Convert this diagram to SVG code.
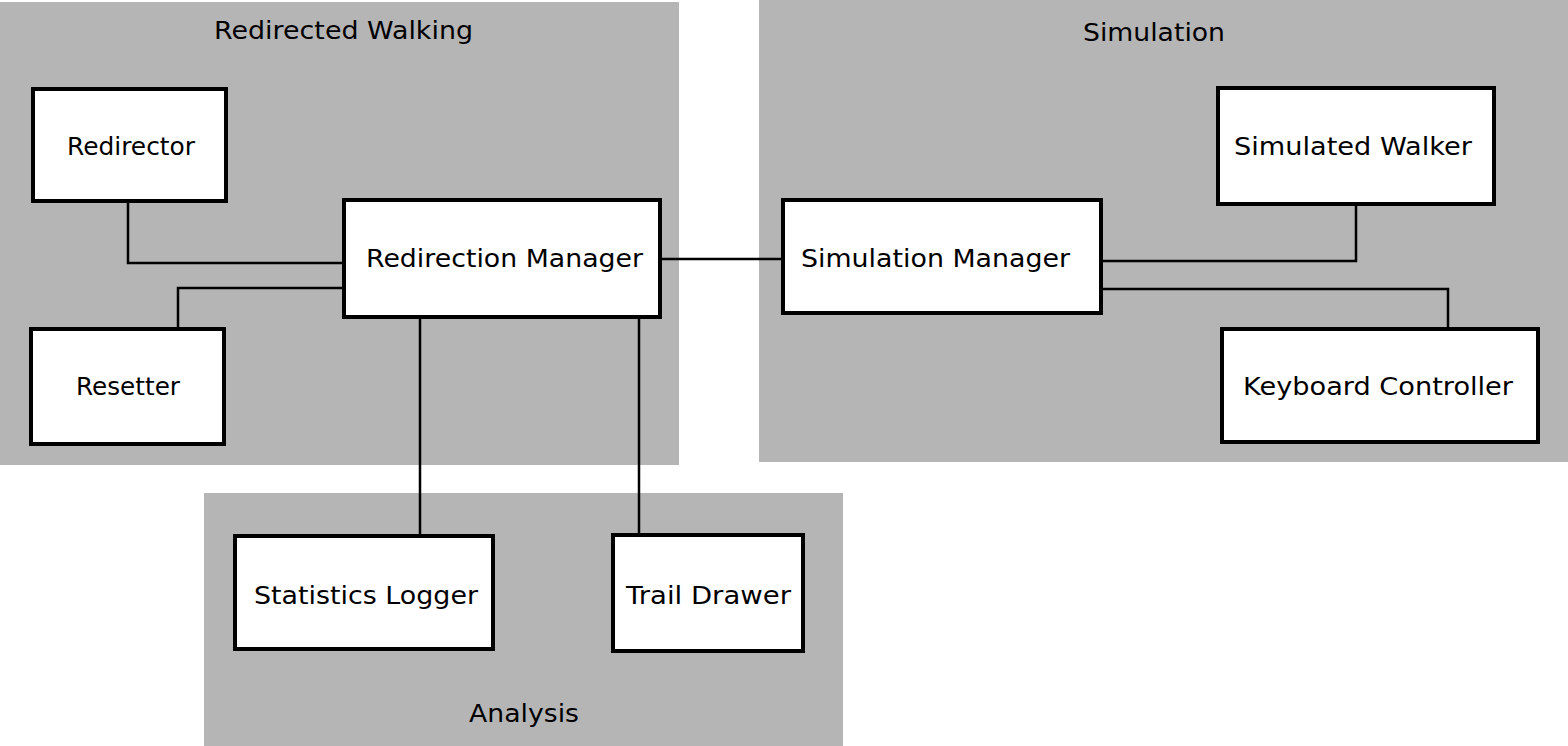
<svg xmlns="http://www.w3.org/2000/svg" width="1568" height="746" viewBox="0 0 1568 746">
<style>
.panel{fill:#b5b5b5}
.box{fill:#fff;stroke:#000;stroke-width:4}
.t{font-family:"DejaVu Sans",Verdana,sans-serif;font-size:25px;fill:#000}
.c{fill:none;stroke:#000;stroke-width:2.5}
</style>
<rect width="1568" height="746" fill="#fff"/>
<g id="panel-rw"><rect class="panel" x="0" y="2" width="679" height="463"/><text class="t" x="214" y="39" textLength="259" lengthAdjust="spacingAndGlyphs">Redirected Walking</text></g>
<g id="panel-sim"><rect class="panel" x="759" y="0" width="809" height="462"/><text class="t" x="1083" y="41" textLength="142" lengthAdjust="spacingAndGlyphs">Simulation</text></g>
<g id="panel-an"><rect class="panel" x="204" y="493" width="639" height="253"/><text class="t" x="469" y="722" textLength="110" lengthAdjust="spacingAndGlyphs">Analysis</text></g>
<g id="connectors">
<polyline class="c" points="128,201 128,263 344,263"/>
<polyline class="c" points="178,329 178,288 344,288"/>
<line class="c" x1="660" y1="259" x2="783" y2="259"/>
<polyline class="c" points="1101,261 1356,261 1356,204"/>
<polyline class="c" points="1101,289 1448,289 1448,329"/>
<line class="c" x1="420" y1="317" x2="420" y2="536"/>
<line class="c" x1="639" y1="317" x2="639" y2="535"/>
</g>
<g id="redirector"><rect class="box" x="33" y="89" width="193" height="112"/><text class="t" x="67" y="155" textLength="128" lengthAdjust="spacingAndGlyphs">Redirector</text></g>
<g id="resetter"><rect class="box" x="31" y="329" width="193" height="115"/><text class="t" x="76" y="395" textLength="104" lengthAdjust="spacingAndGlyphs">Resetter</text></g>
<g id="redirection-manager"><rect class="box" x="344" y="200" width="316" height="117"/><text class="t" x="366" y="267" textLength="277" lengthAdjust="spacingAndGlyphs">Redirection Manager</text></g>
<g id="simulation-manager"><rect class="box" x="783" y="200" width="318" height="113"/><text class="t" x="801" y="267" textLength="269" lengthAdjust="spacingAndGlyphs">Simulation Manager</text></g>
<g id="simulated-walker"><rect class="box" x="1218" y="88" width="276" height="116"/><text class="t" x="1234" y="155" textLength="238" lengthAdjust="spacingAndGlyphs">Simulated Walker</text></g>
<g id="keyboard-controller"><rect class="box" x="1222" y="329" width="316" height="113"/><text class="t" x="1243" y="395" textLength="270" lengthAdjust="spacingAndGlyphs">Keyboard Controller</text></g>
<g id="statistics-logger"><rect class="box" x="235" y="536" width="258" height="113"/><text class="t" x="254" y="604" textLength="224" lengthAdjust="spacingAndGlyphs">Statistics Logger</text></g>
<g id="trail-drawer"><rect class="box" x="613" y="535" width="190" height="116"/><text class="t" x="626" y="604" textLength="165" lengthAdjust="spacingAndGlyphs">Trail Drawer</text></g>
</svg>
